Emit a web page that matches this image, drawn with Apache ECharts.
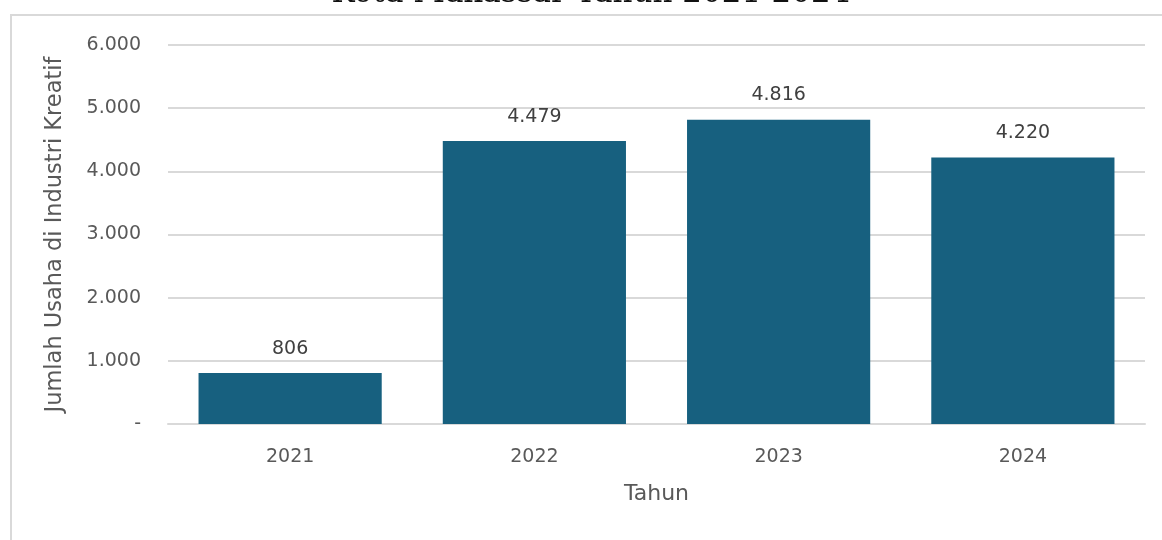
<!DOCTYPE html>
<html><head><meta charset="utf-8">
<script src="https://cdn.jsdelivr.net/npm/echarts@6/dist/echarts.min.js"></script>
<style>html,body{margin:0;padding:0;background:#fff}#c{width:1162px;height:540px}</style>
</head><body><div id="c"></div>
<script>
const categories = ['2021','2022','2023','2024'];
const values = [806, 4479, 4816, 4220];
const titleText = 'Kota Makassar Tahun 2021-2024';
const yName = 'Jumlah Usaha di Industri Kreatif';
const xName = 'Tahun';

function fmt(v){ if(v===0) return '-'; return String(v).replace(/\B(?=(\d{3})+(?!\d))/g,'.'); }

const F = '"DejaVu Sans"';
const chart = echarts.init(document.getElementById('c'));
chart.setOption({
  backgroundColor:'#fff',
  animation:false,
  graphic:[
    {type:'rect', shape:{x:11, y:15, width:1200, height:600}, style:{fill:'none', stroke:'#d9d9d9', lineWidth:2}, z:-1},
    {type:'text', x:591, y:-6, style:{text:titleText, font:'31px "DejaVu Serif", serif', fill:'#111', align:'center', verticalAlign:'middle'}}
  ],
  grid:{left:168, right:17, top:45, bottom:116, containLabel:false},
  xAxis:{type:'category', data:categories, name:xName, nameLocation:'middle', nameGap:59,
    nameTextStyle:{color:'#595959', fontSize:22, fontFamily:F},
    axisLine:{lineStyle:{color:'#d9d9d9', width:2}}, axisTick:{show:false},
    axisLabel:{color:'#595959', fontSize:19, fontFamily:F, margin:24}},
  yAxis:{type:'value', min:0, max:6000, interval:1000, name:yName, nameLocation:'middle', nameGap:101,
    nameTextStyle:{color:'#595959', fontSize:22.5, fontFamily:F},
    axisLine:{show:false}, axisTick:{show:false},
    axisLabel:{color:'#595959', fontSize:19, fontFamily:F, margin:27, formatter:fmt},
    splitLine:{lineStyle:{color:'#d9d9d9', width:2}}},
  series:[{type:'bar', data:values, barWidth:'75%', itemStyle:{color:'#17607f'},
    label:{show:true, position:'top', distance:15, color:'#404040', fontSize:19, fontFamily:F, formatter:p=>fmt(p.value)}}]
});
</script></body></html>
